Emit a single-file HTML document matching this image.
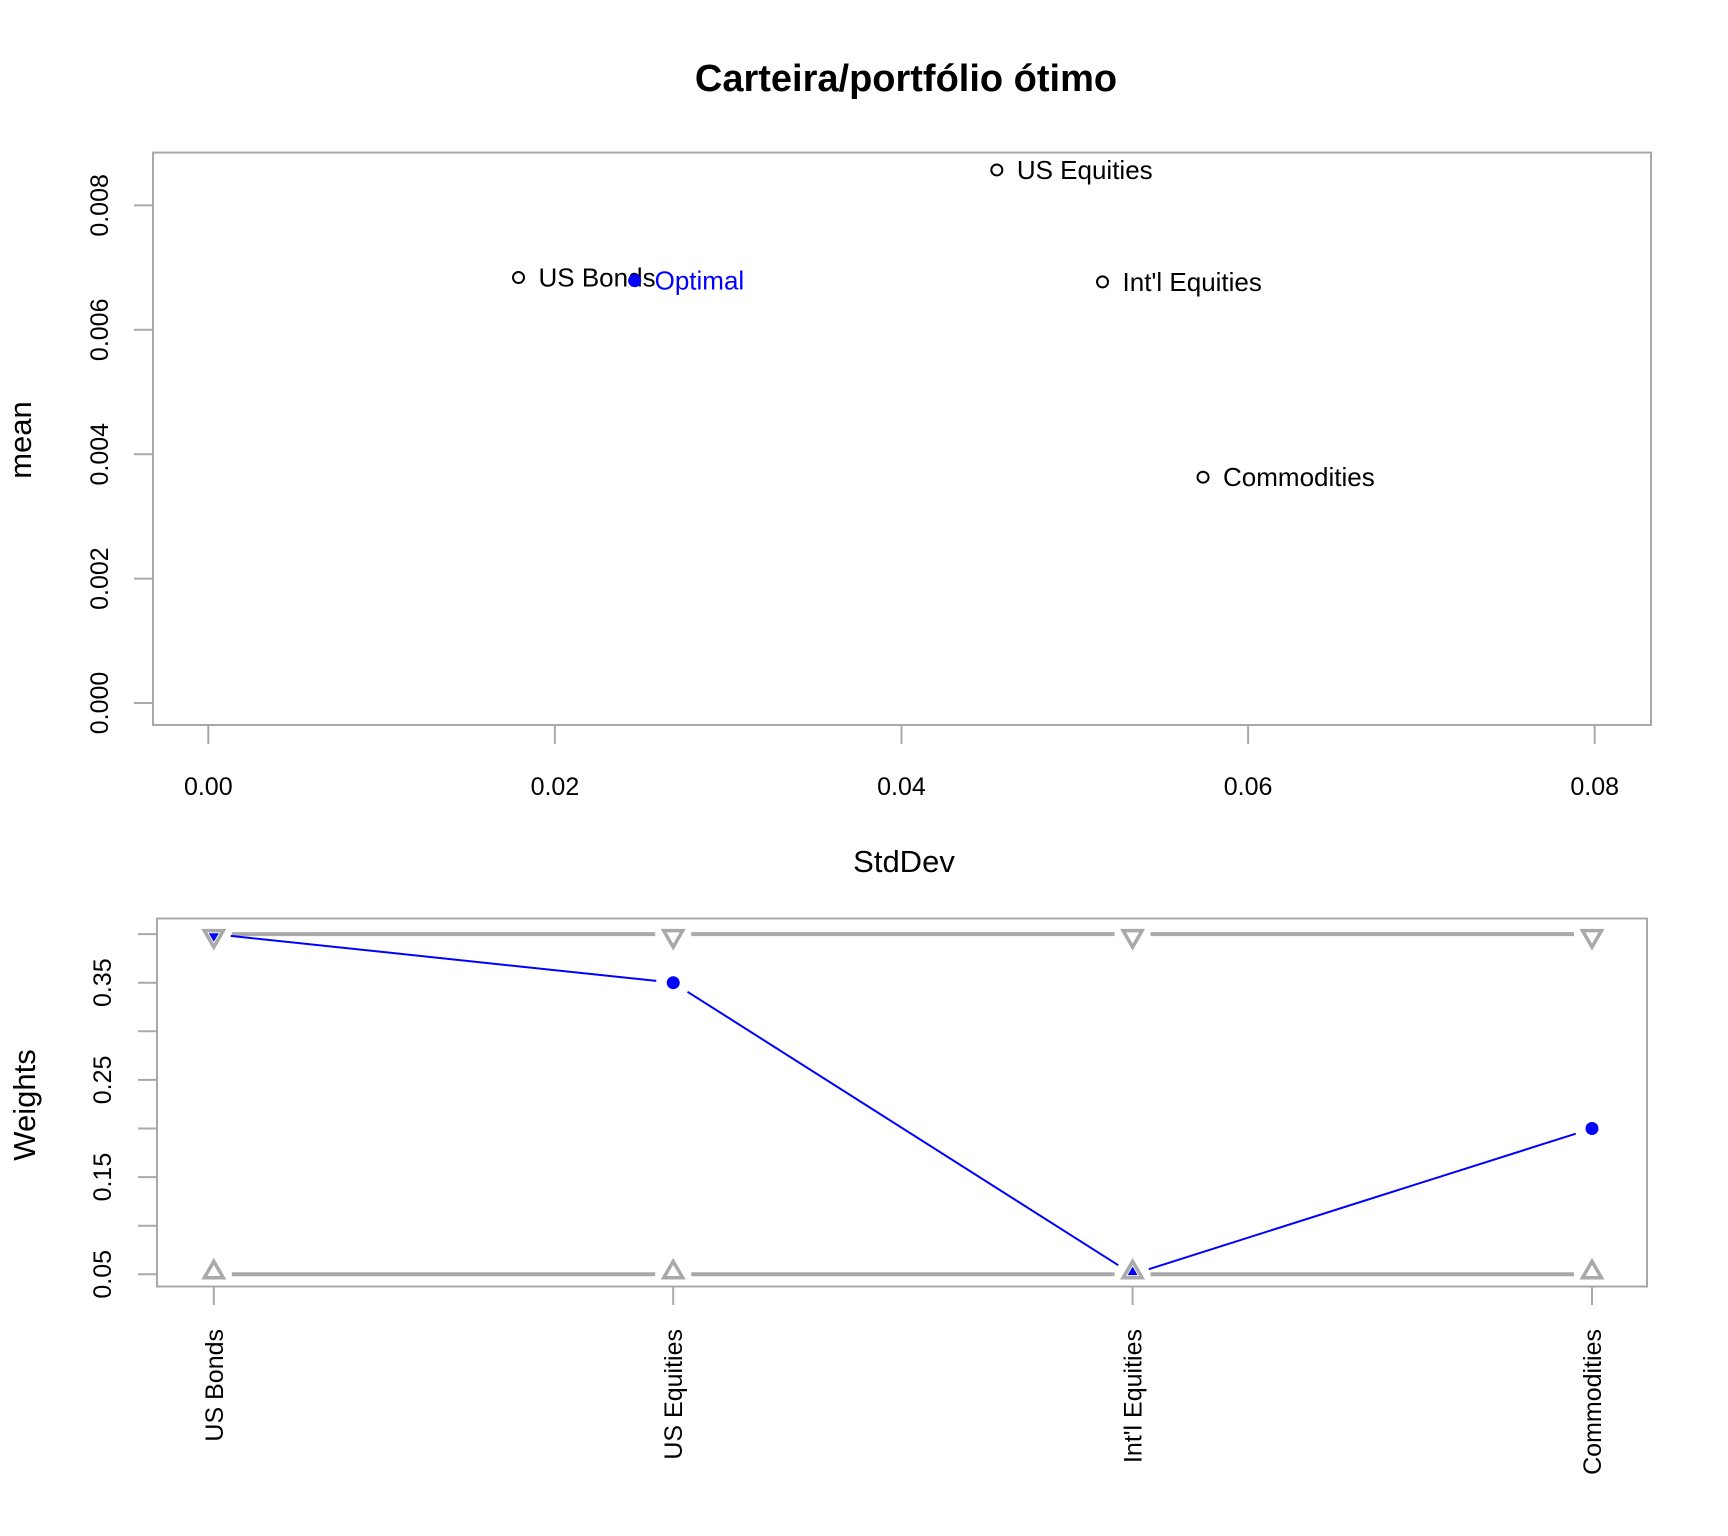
<!DOCTYPE html>
<html><head><meta charset="utf-8"><style>
html,body{margin:0;padding:0;background:#fff}
svg{display:block}
text{font-family:"Liberation Sans",Arial,sans-serif}
</style></head><body>
<svg id="c" width="1728" height="1536" viewBox="0 0 1728 1536" xmlns="http://www.w3.org/2000/svg">
<rect width="1728" height="1536" fill="#fff"/>
<text x="906" y="91" font-size="38" font-weight="bold" text-anchor="middle">Carteira/portfólio ótimo</text>
<g id="topPlot"></g>
<g id="botPlot"></g>
</svg>
<script>
const assets = ["US Bonds","US Equities","Int'l Equities","Commodities"];
const assetSd = [0.0179,0.0455,0.0516,0.0574];
const assetMean = [0.00684,0.00857,0.00677,0.00363];
const optSd = [0.0246];
const optMean = [0.00679];
const xTicks = [0,0.02,0.04,0.06,0.08];
const xTickLabels = ["0.00","0.02","0.04","0.06","0.08"];
const yTicks = [0,0.002,0.004,0.006,0.008];
const yTickLabels = ["0.000","0.002","0.004","0.006","0.008"];
const weights = [0.40,0.35,0.05,0.20];
const upperBound = [0.40,0.40,0.40,0.40];
const lowerBound = [0.05,0.05,0.05,0.05];
const wTicks = [0.05,0.10,0.15,0.20,0.25,0.30,0.35,0.40];
const wTickLabels = ["0.05","","0.15","","0.25","","0.35",""];

const NS="http://www.w3.org/2000/svg";
function mk(parent,tag,attrs,txt){const e=document.createElementNS(NS,tag);for(const k in attrs)e.setAttribute(k,attrs[k]);if(txt!==undefined)e.textContent=txt;parent.appendChild(e);return e;}
const GREY="#a9a9a9";
const gTop=document.getElementById('topPlot');
const sx=v=>208.3+v/0.02*346.6;
const sy=v=>703-v/0.002*124.4;
let e=mk(gTop,'rect',{x:153,y:152.6,width:1498,height:572.4,fill:'none',stroke:GREY,'stroke-width':2});


xTicks.forEach((t,i)=>{
  let l=mk(gTop,'line',{x1:sx(t),x2:sx(t),y1:725,y2:744,stroke:GREY,'stroke-width':2});
  
  
  let tx=mk(gTop,'text',{x:sx(t),y:795,'font-size':25,'text-anchor':'middle'},xTickLabels[i]);
  
  
});
yTicks.forEach((t,i)=>{
  let l=mk(gTop,'line',{x1:134,x2:153,y1:sy(t),y2:sy(t),stroke:GREY,'stroke-width':2});
  
  
  let tx=mk(gTop,'text',{x:0,y:0,'font-size':25,'text-anchor':'middle',transform:`translate(108,${sy(t)}) rotate(-90)`},yTickLabels[i]);
  
  
});
e=mk(gTop,'text',{x:904,y:872,'font-size':31,'text-anchor':'middle'},'StdDev');


e=mk(gTop,'text',{x:0,y:0,'font-size':31,'text-anchor':'middle',transform:'translate(31,440) rotate(-90)'},'mean');


assets.forEach((a,i)=>{
  let c=mk(gTop,'circle',{cx:sx(assetSd[i]),cy:sy(assetMean[i]),r:5.5,fill:'none',stroke:'#000','stroke-width':2});
  
  
  let t=mk(gTop,'text',{x:sx(assetSd[i])+20,y:sy(assetMean[i])+9,'font-size':26},a);
  
  
});
optSd.forEach((s,i)=>{
  let c=mk(gTop,'circle',{cx:sx(s),cy:sy(optMean[i]),r:6.5,fill:'#0000ff'});
  
  
  let t=mk(gTop,'text',{x:sx(s)+20,y:sy(optMean[i])+9,'font-size':26,fill:'#0000ff'},'Optimal');
  
  
});
const gBot=document.getElementById('botPlot');
const bx=i=>213.8+i*459.4;
const by=w=>1274.3-(w-0.05)*972;
e=mk(gBot,'rect',{x:157,y:918.5,width:1490,height:368,fill:'none',stroke:GREY,'stroke-width':2});


wTicks.forEach((t,i)=>{
  let l=mk(gBot,'line',{x1:138,x2:157,y1:by(t),y2:by(t),stroke:GREY,'stroke-width':2});
  
  
  if(wTickLabels[i]){
    let tx=mk(gBot,'text',{x:0,y:0,'font-size':25,'text-anchor':'middle',transform:`translate(111,${by(t)}) rotate(-90)`},wTickLabels[i]);
    
    
  }
});
e=mk(gBot,'text',{x:0,y:0,'font-size':31,'text-anchor':'middle',transform:'translate(35,1105) rotate(-90)'},'Weights');


assets.forEach((a,i)=>{
  let l=mk(gBot,'line',{x1:bx(i),x2:bx(i),y1:1286.5,y2:1305,stroke:GREY,'stroke-width':2});
  
  
  let t=mk(gBot,'text',{x:0,y:0,'font-size':25,'text-anchor':'end',transform:`translate(${bx(i)+9},1329) rotate(-90)`},a);
  
  
});
function gapLine(arr,color,width,gap,name){
  for(let i=0;i<arr.length-1;i++){
    const x1=bx(i),y1=by(arr[i]),x2=bx(i+1),y2=by(arr[i+1]);
    const dx=x2-x1,dy=y2-y1,L=Math.hypot(dx,dy),ux=dx/L,uy=dy/L;
    let l=mk(gBot,'line',{x1:x1+ux*gap,y1:y1+uy*gap,x2:x2-ux*gap,y2:y2-uy*gap,stroke:color,'stroke-width':width});
    
    
  }
}
gapLine(upperBound,GREY,4,18,'upper-bound-line');
gapLine(lowerBound,GREY,4,18,'lower-bound-line');
function tri(cx,cy,s,down,fill,stroke,sw){
  const h=s*0.866;
  const pts=down?`${cx-s/2},${cy-h/3} ${cx+s/2},${cy-h/3} ${cx},${cy+2*h/3}`:`${cx-s/2},${cy+h/3} ${cx+s/2},${cy+h/3} ${cx},${cy-2*h/3}`;
  return mk(gBot,'polygon',{points:pts,fill:fill,stroke:stroke,'stroke-width':sw});
}
upperBound.forEach((w,i)=>{
  let p=tri(bx(i),by(w)+2,19,true,'none',GREY,3.5);
  
  
});
lowerBound.forEach((w,i)=>{
  let p=tri(bx(i),by(w)-2,19,false,'none',GREY,3.5);
  
  
});
gapLine(weights,'#0000ff',2,17,'weights-line');
weights.forEach((w,i)=>{
  if(Math.abs(w-upperBound[i])<1e-9){
    let p=tri(bx(i),by(w)+2,10,true,'#0000ff','none',0);
    
    
  } else if(Math.abs(w-lowerBound[i])<1e-9){
    let p=tri(bx(i),by(w)-2,10,false,'#0000ff','none',0);
    
    
  } else {
    let c=mk(gBot,'circle',{cx:bx(i),cy:by(w),r:6.5,fill:'#0000ff'});
    
    
  }
});
</script>
</body></html>
